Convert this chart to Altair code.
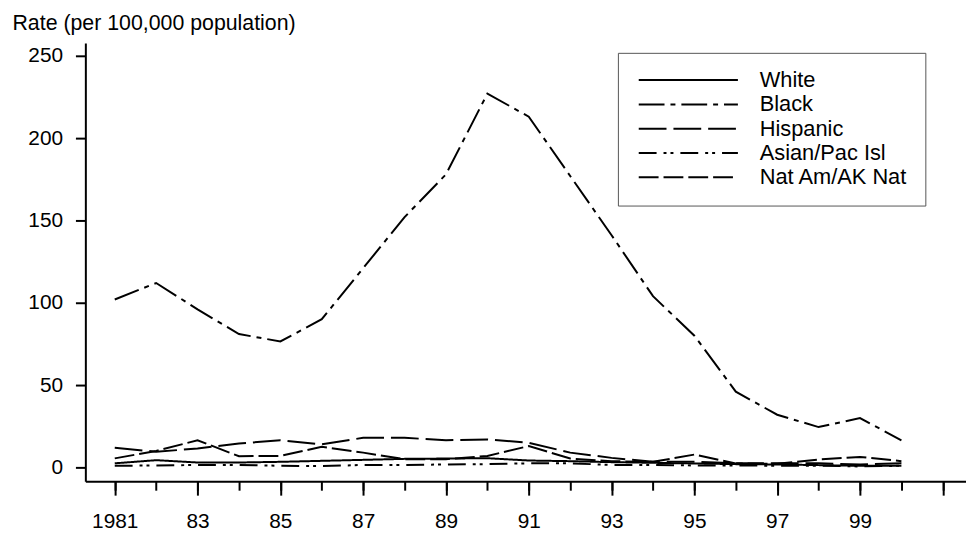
import altair as alt
import pandas as pd

years = list(range(1981, 2001))
series = ["White", "Black", "Hispanic", "Asian/Pac Isl", "Nat Am/AK Nat"]

white = [2.5, 4.4, 3.0, 3.0, 3.4, 4.0, 4.6, 5.2, 5.4, 5.6, 4.2, 3.8, 3.2, 2.8, 2.4, 2.0, 1.8, 1.4, 1.0, 1.0]
black = [102, 112, 96, 81, 76.5, 90, 121, 152, 178, 227, 213, 177, 141, 104, 80, 46, 32, 24.5, 30, 16.5]
hispanic = [12, 9.5, 11.5, 14.5, 16.5, 14, 18, 18, 16.5, 17, 15, 9, 5.8, 3.4, 3.4, 2.5, 2.5, 2.5, 1.8, 2.6]
asian = [1.0, 1.2, 1.5, 1.5, 1.0, 0.8, 1.5, 1.5, 1.8, 2.0, 2.5, 2.5, 1.5, 1.5, 1.2, 1.2, 1.0, 1.0, 0.6, 1.0]
natam = [5.5, 10, 16.5, 6.8, 7, 12.5, 9, 5, 5, 7, 13, 5.4, 3.8, 3.4, 7.8, 2.4, 2.2, 4.8, 6.4, 3.8]

dashes = [[1, 0], [26, 6, 5, 6], [28, 7], [18, 7, 3, 4, 3, 7], [20, 5]]

x_ticks_all = list(range(1981, 2002))
x_ticks_major = list(range(1981, 2002, 2))
y_ticks = [0, 50, 100, 150, 200, 250]

rows = []
for name, vals in zip(series, [white, black, hispanic, asian, natam]):
    for yr, v in zip(years, vals):
        rows.append({"year": yr, "rate": v, "group": name})
df = pd.DataFrame(rows)
ticks_df = pd.DataFrame({"year": x_ticks_major})

FONT = "Liberation Sans"
NBSP = "\u00a0" * 5
x_scale = alt.Scale(domain=[1980.29, 2001.56], nice=False, zero=False)

lines = alt.Chart(df).mark_line(strokeWidth=2, color="black").encode(
    x=alt.X(
        "year:Q",
        scale=x_scale,
        axis=alt.Axis(
            values=x_ticks_all, tickSize=9, tickWidth=2, tickColor="black",
            labels=False, domain=True, domainWidth=2, domainColor="black",
            grid=False, title=None, orient="bottom",
        ),
    ),
    y=alt.Y(
        "rate:Q",
        scale=alt.Scale(domain=[-8.4, 257.8], nice=False, zero=False),
        axis=alt.Axis(
            values=y_ticks, tickSize=10, tickWidth=2, tickColor="black",
            domainWidth=2, domainColor="black", grid=False,
            labelFont=FONT, labelFontSize=21, labelColor="black", labelPadding=13,
            title="Rate (per 100,000 population)", titleFont=FONT, titleFontSize=21.5,
            titleFontWeight="normal", titleColor="black", titleAngle=0,
            titleAlign="left", titleBaseline="alphabetic", titleX=-74, titleY=-13.5,
        ),
    ),
    strokeDash=alt.StrokeDash(
        "group:N",
        scale=alt.Scale(domain=series, range=dashes),
        sort=series,
        legend=alt.Legend(
            title=None, orient="none", legendX=537, legendY=10,
            symbolType="stroke", symbolSize=10000, symbolStrokeWidth=2,
            symbolStrokeColor="black", symbolOffset=3, labelFont=FONT, labelFontSize=22,
            labelColor="black", labelOffset=21, rowPadding=1.5, padding=17,
            clipHeight=21,
            strokeColor="#555555", fillColor="white",
            labelExpr="datum.label + '" + NBSP + "'",
        ),
    ),
)

major = alt.Chart(ticks_df).mark_rule(opacity=0).encode(
    x=alt.X(
        "year:Q",
        scale=x_scale,
        axis=alt.Axis(
            values=x_ticks_major, tickSize=14, tickWidth=2, tickColor="black",
            domain=False, grid=False, title=None, orient="bottom",
            labelFont=FONT, labelFontSize=21, labelColor="black", labelPadding=16,
            labelExpr="datum.value == 1981 ? '1981' : (datum.value <= 1999 ? substring(toString(datum.value), 2, 4) : '')",
        ),
    ),
)

chart = alt.layer(lines, major).resolve_axis(x="independent").resolve_scale(x="shared").properties(
    width=888, height=442,
    autosize=alt.AutoSizeParams(type="none"),
    padding={"left": 78, "top": 33, "right": 0, "bottom": 55},
).configure_view(stroke=None)

chart.save("out.html", embed_options={"renderer": "svg", "actions": False})
